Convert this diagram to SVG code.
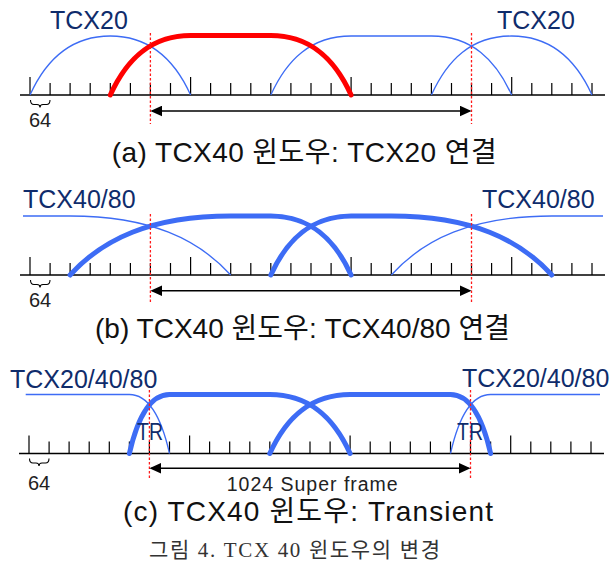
<svg xmlns="http://www.w3.org/2000/svg" xmlns:xlink="http://www.w3.org/1999/xlink" width="613" height="563" viewBox="0 0 613 563">
<style>
.axis{stroke:#000;stroke-width:1.5;fill:none}
.tick{stroke:#000;stroke-width:1.2;fill:none}
.brace{stroke:#000;stroke-width:1.1;fill:none}
.thin{stroke:#3d6cf5;stroke-width:1.3;fill:none}
.thick{stroke:#3d6cf5;stroke-width:5;fill:none;stroke-linecap:round}
.red{stroke:#ff0000;stroke-width:5;fill:none;stroke-linecap:round}
.dash{stroke:#ff1a1a;stroke-width:1.3;stroke-dasharray:2.5 2}
.arrow{stroke:#000;stroke-width:1.5;fill:none;marker-start:url(#ah);marker-end:url(#ah)}
.lbl{font-family:"Liberation Sans","Noto Sans CJK KR",sans-serif;font-size:25px;fill:#0f2c6b}
.tr{font-family:"Liberation Sans","Noto Sans CJK KR",sans-serif;font-size:23px;fill:#0f2c6b}
.num{font-family:"Liberation Sans",sans-serif;font-size:20px;fill:#222}
.sf{font-family:"Liberation Sans",sans-serif;font-size:19.5px;fill:#222}
.title{font-family:"Liberation Sans","Noto Sans CJK KR",sans-serif;font-size:28px;fill:#111}
.cap{font-family:"Liberation Serif","Noto Sans CJK KR",serif;font-size:21px;fill:#333}
</style>
<defs>
<marker id="ah" viewBox="0 0 12 11" refX="10" refY="5.5" markerWidth="12" markerHeight="11" markerUnits="userSpaceOnUse" orient="auto-start-reverse">
<path d="M0,0 L12,5.5 L0,11 z" fill="#000"/>
</marker>
<g id="scale">
<line class="axis" x1="20" y1="0" x2="605" y2="0"/>
<path class="tick" d="M30,0V-18 M50.1,0V-12 M70.1,0V-12 M90.2,0V-12 M110.3,0V-12 M130.4,0V-12 M150.4,0V-12 M170.5,0V-12 M190.6,0V-18 M210.6,0V-12 M230.7,0V-12 M250.8,0V-12 M270.8,0V-12 M290.9,0V-12 M311,0V-12 M331.1,0V-12 M351.1,0V-18 M371.2,0V-12 M391.3,0V-12 M411.3,0V-12 M431.4,0V-12 M451.5,0V-12 M471.5,0V-12 M491.6,0V-12 M511.7,0V-18 M531.8,0V-12 M551.8,0V-12 M571.9,0V-12 M592,0V-12"/>
<path class="brace" d="M30.5,5 Q30.5,9.5 34,9.5 L37,9.5 Q40,9.5 40,12.5 Q40,9.5 43,9.5 L46.5,9.5 Q50,9.5 50,5"/>
</g>
</defs>

<!-- Panel (a) -->
<g id="panel-a">
<use xlink:href="#scale" href="#scale" y="95"/>
<g id="a-tcx20-left"><path class="thin" d="M30,95 C46,59.6 70.2,36 110.3,36 C150.4,36 174.6,59.6 190.6,95"/></g>
<g id="a-tcx40-next"><path class="thin" d="M270.8,95 C286.9,59.6 311,36 351.1,36 L431.4,36 C471.5,36 495.6,59.6 511.7,95"/></g>
<g id="a-tcx20-right"><path class="thin" d="M431.4,95 C447.5,59.6 471.5,36 511.7,36 C551.8,36 576,59.6 592,95"/></g>
<g id="a-tcx40"><path class="red" d="M110.3,95 C126.4,59.6 150.4,35.5 190.6,35.5 L270.8,35.5 C311,35.5 335.1,59.6 351.1,95"/></g>
<line class="dash" x1="150.4" y1="33" x2="150.4" y2="124"/>
<line class="dash" x1="471.5" y1="33" x2="471.5" y2="124"/>
<text class="lbl" x="50" y="29">TCX20</text>
<text class="lbl" x="497" y="29">TCX20</text>
<text class="num" x="40" y="127" text-anchor="middle">64</text>
<text class="title" x="111.7" y="162" textLength="385">(a) TCX40 윈도우: TCX20 연결</text>
</g>

<!-- Panel (b) -->
<g id="panel-b">
<use xlink:href="#scale" href="#scale" y="275"/>
<g id="b-tcx4080-left"><path class="thin" d="M23,216 L70.1,216 C150.4,216 198.6,239.6 230.7,275"/></g>
<g id="b-tcx4080-right"><path class="thin" d="M391.3,275 C423.4,239.6 471.5,216 551.8,216 L603,216"/></g>
<g id="b-tcx40-a"><path class="thick" d="M70.1,275 C102.2,239.6 150.4,216 230.7,216 L270.8,216 C310.9,216 335.1,239.6 351.1,275"/></g>
<g id="b-tcx40-b"><path class="thick" d="M270.8,275 C286.9,239.6 311,216 351.1,216 L391.3,216 C471.6,216 519.7,239.6 551.8,275"/></g>
<line class="dash" x1="150.4" y1="214" x2="150.4" y2="303"/>
<line class="dash" x1="471.5" y1="214" x2="471.5" y2="303"/>
<text class="lbl" x="23" y="208">TCX40/80</text>
<text class="lbl" x="482" y="208">TCX40/80</text>
<text class="num" x="40" y="307" text-anchor="middle">64</text>
<text class="title" x="95" y="338" textLength="415">(b) TCX40 윈도우: TCX40/80 연결</text>
</g>

<!-- Panel (c) -->
<g id="panel-c">
<g transform="translate(-1,0)">
<use xlink:href="#scale" href="#scale" y="453.5"/>
<g id="c-tcx-left"><path class="thin" d="M26.7,394.5 L130.4,394.5 C150.4,394.5 162.5,418.1 170.5,453.5"/></g>
<g id="c-tcx-right"><path class="thin" d="M451.5,453.5 C459.5,418.1 471.5,394.5 491.6,394.5 L601,394.5"/></g>
<g id="c-tcx40-a"><path class="thick" d="M130.4,453.5 C138.4,418.1 150.4,394.5 170.5,394.5 L270.8,394.5 C310.9,394.5 335.1,418.1 351.1,453.5"/></g>
<g id="c-tcx40-b"><path class="thick" d="M270.8,453.5 C286.9,418.1 311,394.5 351.1,394.5 L451.5,394.5 C471.5,394.5 483.6,418.1 491.6,453.5"/></g>
<line class="dash" x1="150.4" y1="390" x2="150.4" y2="480"/>
<line class="dash" x1="471.5" y1="390" x2="471.5" y2="480"/>
</g>
<text class="lbl" x="10" y="388">TCX20/40/80</text>
<text class="lbl" x="462" y="387">TCX20/40/80</text>
<text class="tr" x="137" y="440" textLength="26" lengthAdjust="spacingAndGlyphs">TR</text>
<text class="tr" x="457" y="440" textLength="26" lengthAdjust="spacingAndGlyphs">TR</text>
<text class="num" x="39" y="490" text-anchor="middle">64</text>
<text class="sf" x="226.7" y="491" textLength="171">1024 Super frame</text>
<text class="title" x="123" y="521" textLength="370">(c) TCX40 윈도우: Transient</text>
</g>

<!-- Connectors: superframe span arrows -->
<g id="connectors">
<line class="arrow" x1="152.4" y1="111" x2="469.5" y2="111"/>
<line class="arrow" x1="152.4" y1="290.7" x2="469.5" y2="290.7"/>
<line class="arrow" x1="151.4" y1="468.3" x2="468.5" y2="468.3"/>
</g>

<text class="cap" x="149" y="556.5" textLength="291">그림 4. TCX 40 윈도우의 변경</text>
</svg>
